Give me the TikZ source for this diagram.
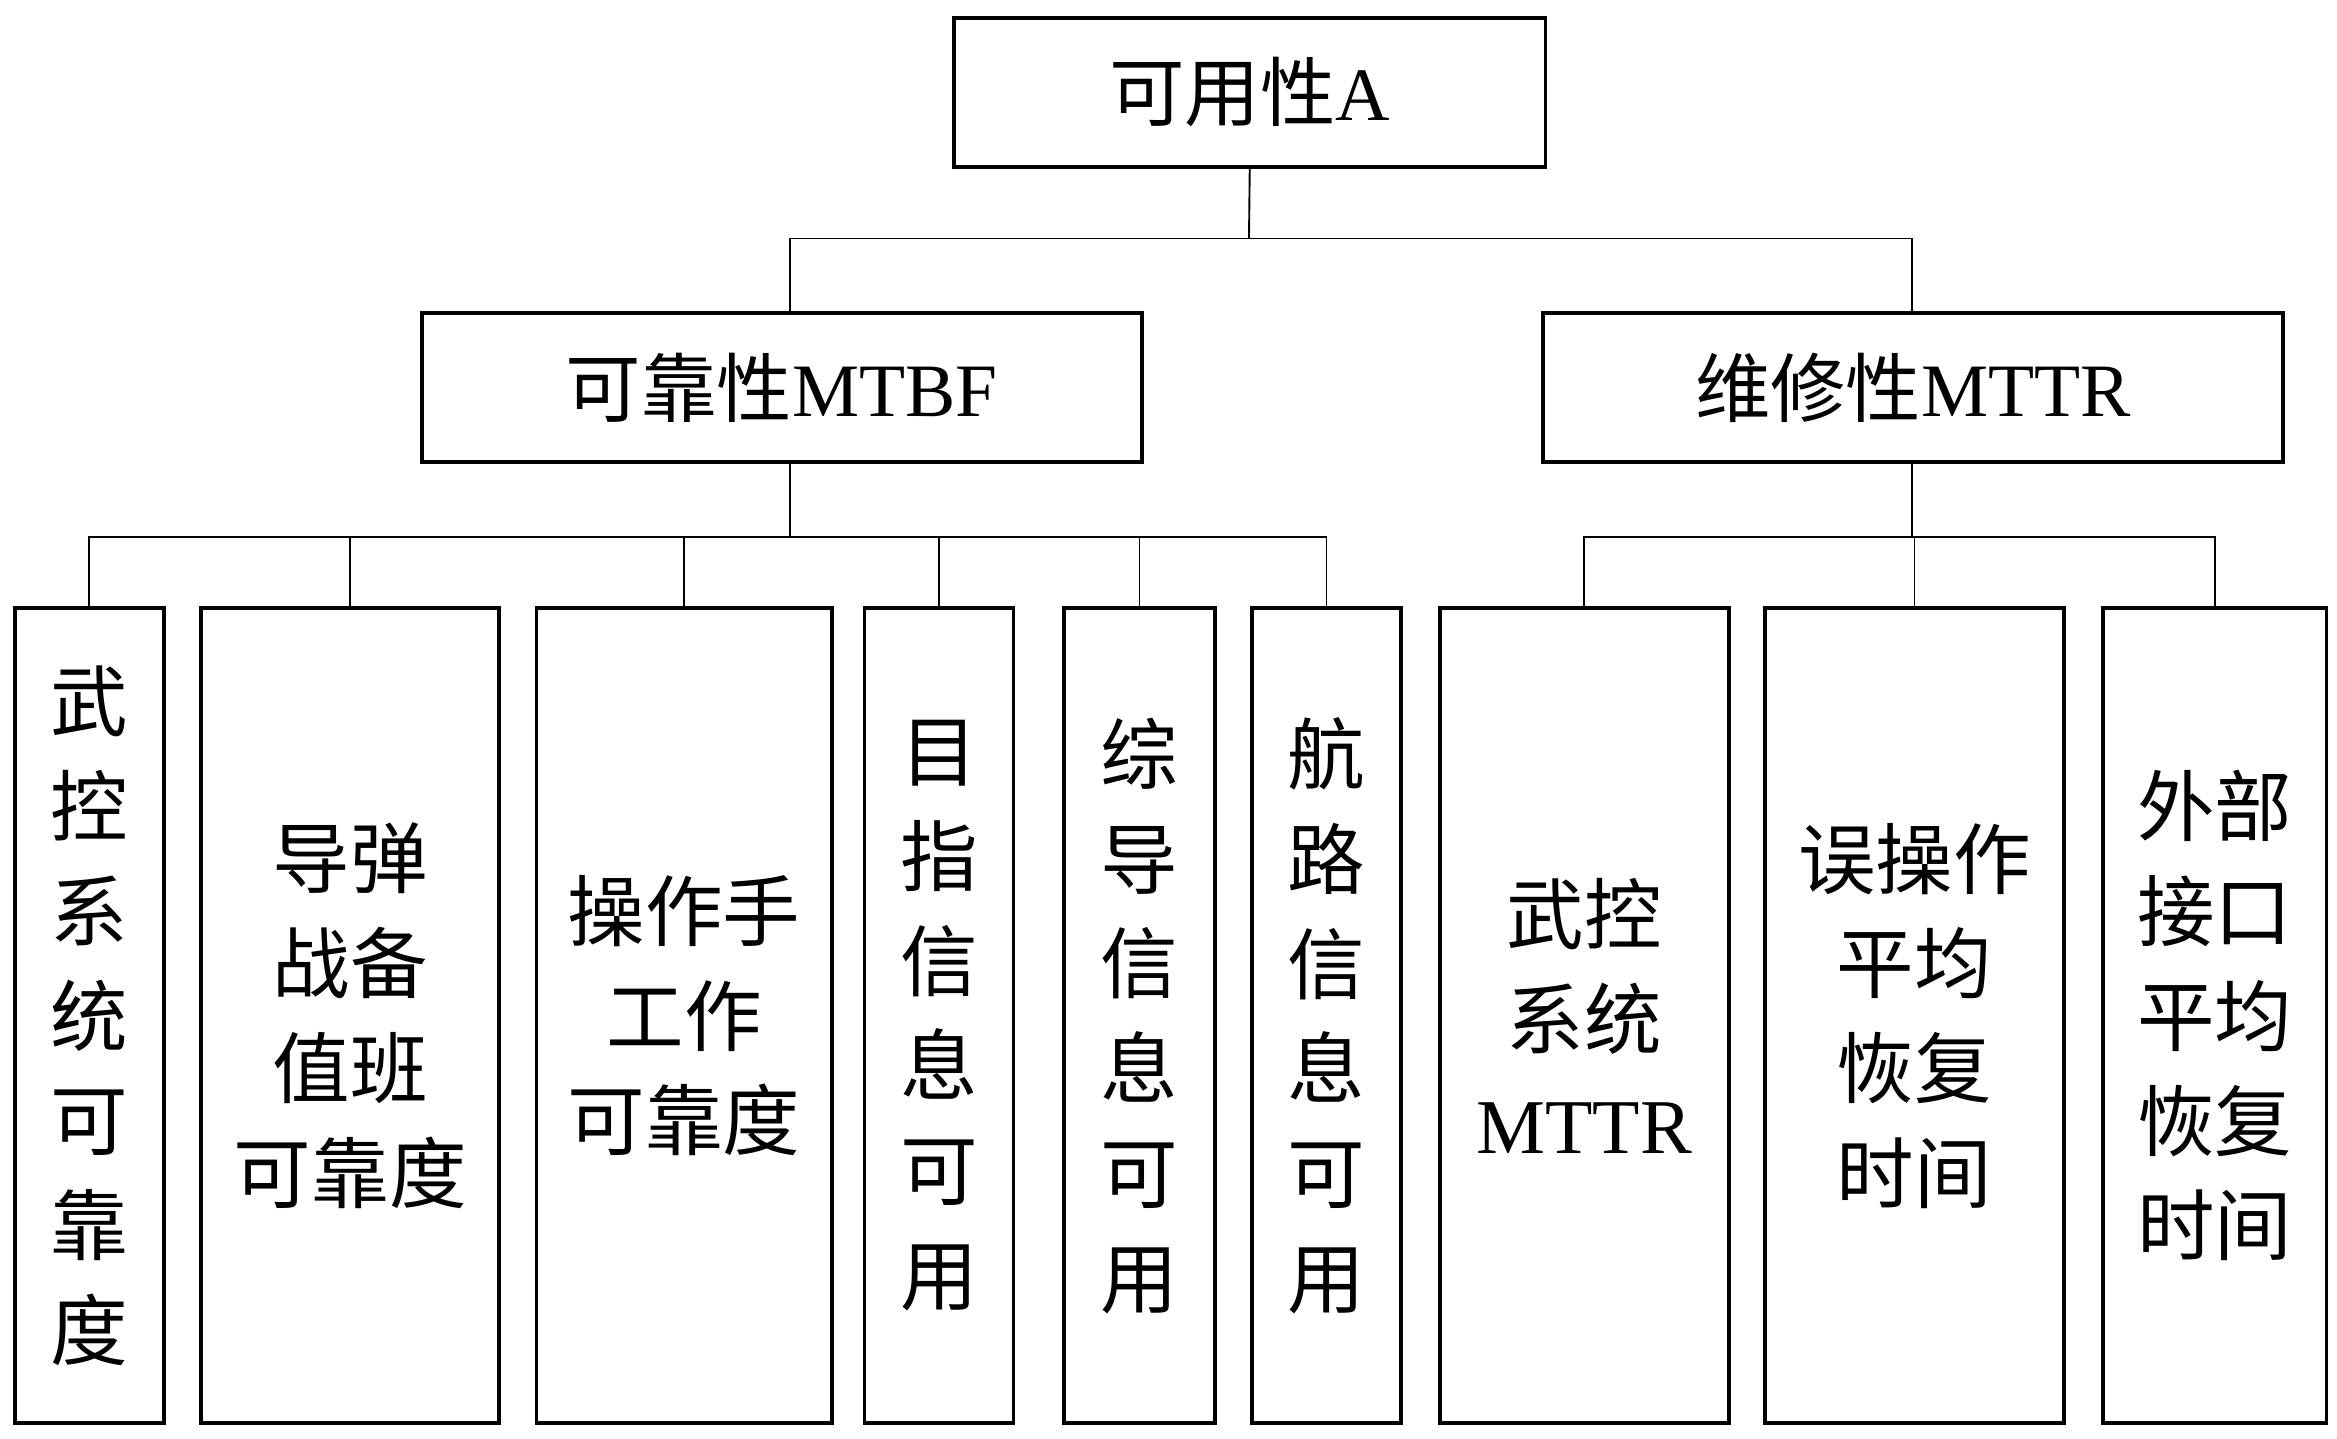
\documentclass[tikz,border=0pt]{standalone}
\usepackage{fontspec}
\setmainfont{Liberation Serif}
\newfontfamily\cjk{Noto Sans CJK SC}
\begin{document}
\begin{tikzpicture}[x=0.05cm,y=-0.05cm,
 box/.style={draw,line width=3.6pt,inner sep=0pt},
 ln/.style={line width=1.8pt},
 head/.style={font=\fontsize{72}{100}\selectfont},
 leaf/.style={draw,line width=3.6pt,inner sep=0pt,minimum height=547*0.05cm,font=\fontsize{74}{100}\selectfont\cjk,align=center}]
\useasboundingbox (0,0) rectangle (1568,965);
\fill[white] (0,0) rectangle (1568,965);
\node[box,minimum width=397*0.05cm,minimum height=100*0.05cm,head] (A) at (838.5,62) {{\cjk 可用性}A};
\node[box,minimum width=483*0.05cm,minimum height=100*0.05cm,head] (B) at (524.5,260) {{\cjk 可靠性}MTBF};
\node[box,minimum width=497*0.05cm,minimum height=100*0.05cm,head] (C) at (1283.5,260) {{\cjk 维修性}MTTR};
\node[leaf,minimum width=100*0.05cm] (l1) at (60,681.5) {武\\控\\系\\统\\可\\靠\\度};
\node[leaf,minimum width=200*0.05cm] (l2) at (235,681.5) {导弹\\战备\\值班\\可靠度};
\node[leaf,minimum width=198*0.05cm] (l3) at (459,681.5) {操作手\\工作\\可靠度};
\node[leaf,minimum width=100*0.05cm] (l4) at (630,681.5) {目\\指\\信\\息\\可\\用};
\node[leaf,minimum width=101*0.05cm] (l5) at (764.5,681.5) {综\\导\\信\\息\\可\\用};
\node[leaf,minimum width=100*0.05cm] (l6) at (890,681.5) {航\\路\\信\\息\\可\\用};
\node[leaf,minimum width=194*0.05cm] (l7) at (1063,681.5) {武控\\系统\\\rmfamily MTTR};
\node[leaf,minimum width=201*0.05cm] (l8) at (1284.5,681.5) {误操作\\平均\\恢复\\时间};
\node[leaf,minimum width=150*0.05cm] (l9) at (1486,681.5) {外部\\接口\\平均\\恢复\\时间};
\coordinate (ja) at (838,160);
\coordinate (jb) at (530,360);
\coordinate (jc) at (1283,360);
\draw[ln] (A.south) -- (ja);
\draw[ln] (B.north -| jb) |- (ja) -| (C.north -| jc);
\draw[ln] (B.south -| jb) -- (jb);
\draw[ln] (C.south -| jc) -- (jc);
\foreach \n in {l1,l2,l3,l4,l5,l6}{\draw[ln] (jb) -| (\n.north);}
\foreach \n in {l7,l8,l9}{\draw[ln] (jc) -| (\n.north);}
\end{tikzpicture}
\end{document}
